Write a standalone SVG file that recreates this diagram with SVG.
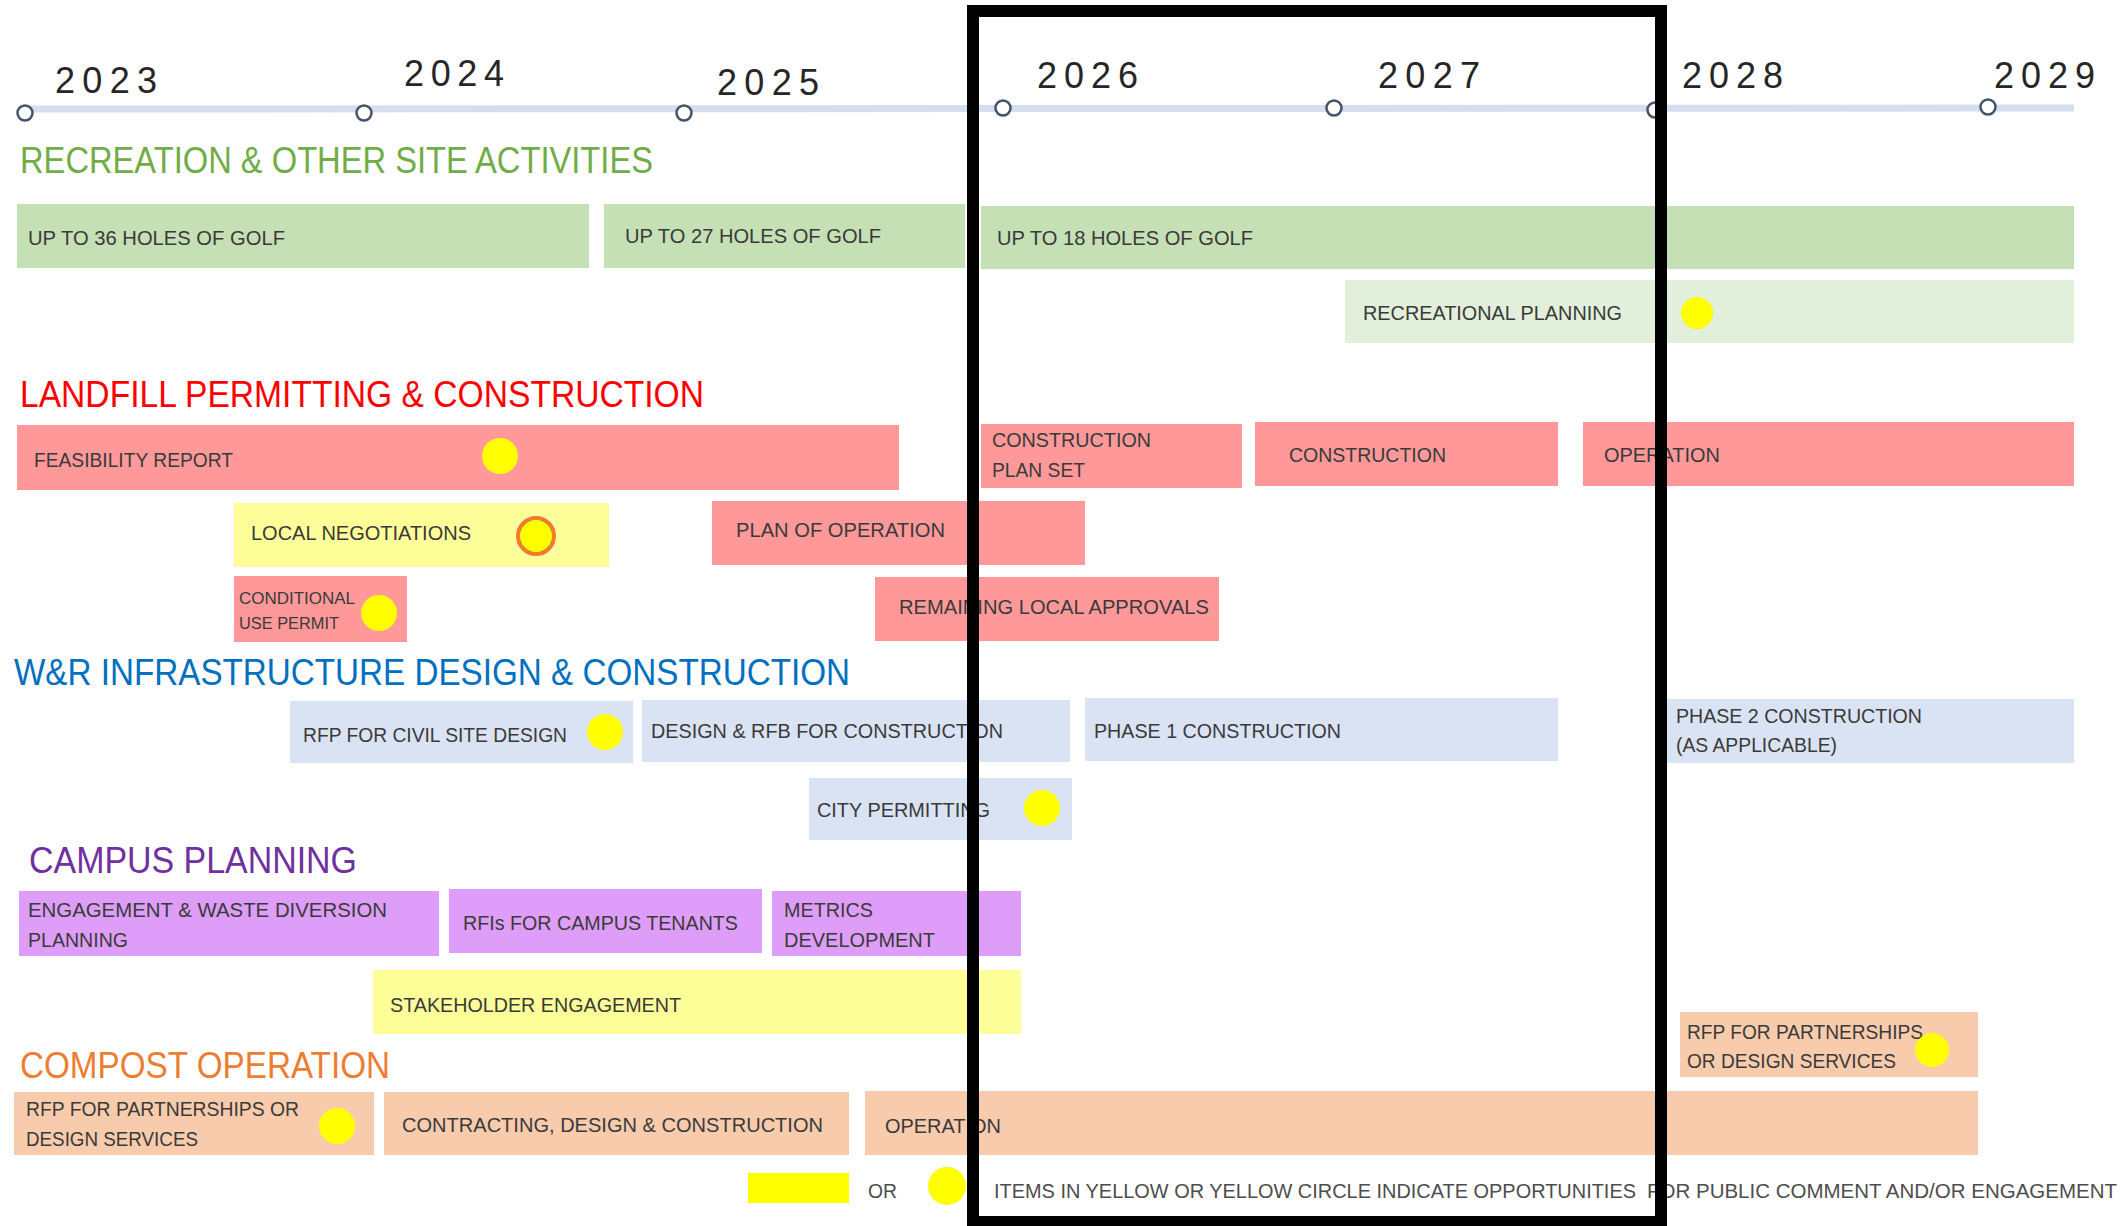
<svg xmlns="http://www.w3.org/2000/svg" width="2123" height="1226" viewBox="0 0 2123 1226">
<style>
.bg{fill:#ffffff}
.t{font-family:"Liberation Sans",Arial,sans-serif;font-size:20px;fill:#3a3a3a}
.ts{font-family:"Liberation Sans",Arial,sans-serif;font-size:16px;fill:#3a3a3a}
.yr{font-family:"Liberation Sans",Arial,sans-serif;font-size:36px;fill:#262626}
.h{font-family:"Liberation Sans",Arial,sans-serif;font-size:36px}
.g{fill:#C5E0B4}.lg{fill:#E2EFDA}.r{fill:#FF9999}.y{fill:#FFFF99}.b{fill:#DAE3F3}.p{fill:#DE9DF9}.o{fill:#F8CBAD}
.dot{fill:#FFFF00}
.tick{fill:#ffffff;stroke:#44546A;stroke-width:2.5}
.leg{font-family:"Liberation Sans",Arial,sans-serif;font-size:20px;fill:#4d4d4d}
</style>
<rect class="bg" x="0" y="0" width="2123" height="1226"/>
<g id="timeline">
<line x1="20" y1="109" x2="2074" y2="108" stroke="#D5DEEF" stroke-width="7"/>
<circle class="tick" cx="25" cy="113" r="7.5"/>
<circle class="tick" cx="364" cy="113" r="7.5"/>
<circle class="tick" cx="684" cy="113" r="7.5"/>
<circle class="tick" cx="1003" cy="108" r="7.5"/>
<circle class="tick" cx="1334" cy="108" r="7.5"/>
<circle class="tick" cx="1655" cy="110" r="7.5"/>
<circle class="tick" cx="1988" cy="107" r="7.5"/>
<text class="yr" x="55" y="93" textLength="102" lengthAdjust="spacing">2023</text>
<text class="yr" x="404" y="86" textLength="100" lengthAdjust="spacing">2024</text>
<text class="yr" x="717" y="95" textLength="102" lengthAdjust="spacing">2025</text>
<text class="yr" x="1037" y="88" textLength="101" lengthAdjust="spacing">2026</text>
<text class="yr" x="1378" y="88" textLength="102" lengthAdjust="spacing">2027</text>
<text class="yr" x="1682" y="88" textLength="101" lengthAdjust="spacing">2028</text>
<text class="yr" x="1994" y="88" textLength="101" lengthAdjust="spacing">2029</text>
</g>
<g id="headings">
<text class="h" x="20" y="173" fill="#70AD47" textLength="633" lengthAdjust="spacingAndGlyphs">RECREATION &amp; OTHER SITE ACTIVITIES</text>
<text class="h" x="20" y="407" fill="#FF0000" textLength="684" lengthAdjust="spacingAndGlyphs">LANDFILL PERMITTING &amp; CONSTRUCTION</text>
<text class="h" x="14" y="685" fill="#0070C0" textLength="836" lengthAdjust="spacingAndGlyphs">W&amp;R INFRASTRUCTURE DESIGN &amp; CONSTRUCTION</text>
<text class="h" x="29" y="873" fill="#7030A0" textLength="328" lengthAdjust="spacingAndGlyphs">CAMPUS PLANNING</text>
<text class="h" x="20" y="1078" fill="#ED7D31" textLength="370" lengthAdjust="spacingAndGlyphs">COMPOST OPERATION</text>
</g>
<g id="golf36"><rect class="g" x="17" y="204" width="572" height="64"/><text class="t" x="28" y="245" textLength="257" lengthAdjust="spacingAndGlyphs">UP TO 36 HOLES OF GOLF</text></g>
<g id="golf27"><rect class="g" x="604" y="204" width="361" height="64"/><text class="t" x="625" y="243" textLength="256" lengthAdjust="spacingAndGlyphs">UP TO 27 HOLES OF GOLF</text></g>
<g id="golf18"><rect class="g" x="981" y="206" width="1093" height="63"/><text class="t" x="997" y="245" textLength="256" lengthAdjust="spacingAndGlyphs">UP TO 18 HOLES OF GOLF</text></g>
<g id="recplan"><rect class="lg" x="1345" y="280" width="729" height="63"/><text class="t" x="1363" y="320" textLength="259" lengthAdjust="spacingAndGlyphs">RECREATIONAL PLANNING</text><circle class="dot" cx="1697" cy="313" r="16"/></g>
<g id="feasibility"><rect class="r" x="17" y="425" width="882" height="65"/><text class="t" x="34" y="467" textLength="199" lengthAdjust="spacingAndGlyphs">FEASIBILITY REPORT</text><circle class="dot" cx="500" cy="456" r="18"/></g>
<g id="localneg"><rect class="y" x="234" y="503" width="375" height="64"/><text class="t" x="251" y="540" textLength="220" lengthAdjust="spacingAndGlyphs">LOCAL NEGOTIATIONS</text><circle cx="536" cy="536" r="18" fill="#FFFF00" stroke="#ED7D31" stroke-width="4"/></g>
<g id="cup"><rect class="r" x="234" y="576" width="173" height="66"/><text class="ts" x="239" y="604" textLength="116" lengthAdjust="spacingAndGlyphs">CONDITIONAL</text><text class="ts" x="239" y="629" textLength="100" lengthAdjust="spacingAndGlyphs">USE PERMIT</text><circle class="dot" cx="379" cy="613" r="18"/></g>
<g id="cplanset"><rect class="r" x="981" y="424" width="261" height="64"/><text class="t" x="992" y="447" textLength="159" lengthAdjust="spacingAndGlyphs">CONSTRUCTION</text><text class="t" x="992" y="477" textLength="93" lengthAdjust="spacingAndGlyphs">PLAN SET</text></g>
<g id="construction"><rect class="r" x="1255" y="422" width="303" height="64"/><text class="t" x="1289" y="462" textLength="157" lengthAdjust="spacingAndGlyphs">CONSTRUCTION</text></g>
<g id="lfoperation"><rect class="r" x="1583" y="422" width="491" height="64"/><text class="t" x="1604" y="462" textLength="116" lengthAdjust="spacingAndGlyphs">OPERATION</text></g>
<g id="planop"><rect class="r" x="712" y="501" width="373" height="64"/><text class="t" x="736" y="537" textLength="209" lengthAdjust="spacingAndGlyphs">PLAN OF OPERATION</text></g>
<g id="remaining"><rect class="r" x="875" y="577" width="344" height="64"/><text class="t" x="899" y="614" textLength="310" lengthAdjust="spacingAndGlyphs">REMAINING LOCAL APPROVALS</text></g>
<g id="rfpcivil"><rect class="b" x="290" y="701" width="343" height="62"/><text class="t" x="303" y="742" textLength="264" lengthAdjust="spacingAndGlyphs">RFP FOR CIVIL SITE DESIGN</text><circle class="dot" cx="605" cy="732" r="18"/></g>
<g id="designrfb"><rect class="b" x="642" y="700" width="428" height="62"/><text class="t" x="651" y="738" textLength="352" lengthAdjust="spacingAndGlyphs">DESIGN &amp; RFB FOR CONSTRUCTION</text></g>
<g id="phase1"><rect class="b" x="1085" y="698" width="473" height="63"/><text class="t" x="1094" y="738" textLength="247" lengthAdjust="spacingAndGlyphs">PHASE 1 CONSTRUCTION</text></g>
<g id="phase2"><rect class="b" x="1660" y="699" width="414" height="64"/><text class="t" x="1676" y="723" textLength="246" lengthAdjust="spacingAndGlyphs">PHASE 2 CONSTRUCTION</text><text class="t" x="1676" y="752" textLength="161" lengthAdjust="spacingAndGlyphs">(AS APPLICABLE)</text></g>
<g id="citypermit"><rect class="b" x="809" y="778" width="263" height="62"/><text class="t" x="817" y="817" textLength="173" lengthAdjust="spacingAndGlyphs">CITY PERMITTING</text><circle class="dot" cx="1042" cy="808" r="18"/></g>
<g id="engagement"><rect class="p" x="19" y="891" width="420" height="65"/><text class="t" x="28" y="917" textLength="359" lengthAdjust="spacingAndGlyphs">ENGAGEMENT &amp; WASTE DIVERSION</text><text class="t" x="28" y="947" textLength="100" lengthAdjust="spacingAndGlyphs">PLANNING</text></g>
<g id="rfis"><rect class="p" x="449" y="889" width="313" height="64"/><text class="t" x="463" y="930" textLength="275" lengthAdjust="spacingAndGlyphs">RFIs FOR CAMPUS TENANTS</text></g>
<g id="metrics"><rect class="p" x="772" y="891" width="249" height="65"/><text class="t" x="784" y="917" textLength="89" lengthAdjust="spacingAndGlyphs">METRICS</text><text class="t" x="784" y="947" textLength="151" lengthAdjust="spacingAndGlyphs">DEVELOPMENT</text></g>
<g id="stakeholder"><rect class="y" x="373" y="970" width="648" height="64"/><text class="t" x="390" y="1012" textLength="291" lengthAdjust="spacingAndGlyphs">STAKEHOLDER ENGAGEMENT</text></g>
<g id="rfpcompost1"><rect class="o" x="14" y="1092" width="360" height="63"/><text class="t" x="26" y="1116" textLength="273" lengthAdjust="spacingAndGlyphs">RFP FOR PARTNERSHIPS OR</text><text class="t" x="26" y="1146" textLength="172" lengthAdjust="spacingAndGlyphs">DESIGN SERVICES</text><circle class="dot" cx="337" cy="1126" r="18"/></g>
<g id="contracting"><rect class="o" x="384" y="1092" width="465" height="63"/><text class="t" x="402" y="1132" textLength="421" lengthAdjust="spacingAndGlyphs">CONTRACTING, DESIGN &amp; CONSTRUCTION</text></g>
<g id="cpoperation"><rect class="o" x="865" y="1091" width="1113" height="64"/><text class="t" x="885" y="1133" textLength="116" lengthAdjust="spacingAndGlyphs">OPERATION</text></g>
<g id="rfpcompost2"><rect class="o" x="1680" y="1012" width="298" height="65"/><text class="t" x="1687" y="1039" textLength="236" lengthAdjust="spacingAndGlyphs">RFP FOR PARTNERSHIPS</text><text class="t" x="1687" y="1068" textLength="209" lengthAdjust="spacingAndGlyphs">OR DESIGN SERVICES</text><circle class="dot" cx="1932" cy="1050" r="17"/></g>
<g id="legend">
<rect x="748" y="1173" width="101" height="30" fill="#FFFF00"/>
<text class="leg" x="868" y="1198" textLength="29" lengthAdjust="spacingAndGlyphs">OR</text>
<circle class="dot" cx="947" cy="1186" r="19"/>
<text class="leg" y="1198"><tspan x="994" textLength="642" lengthAdjust="spacingAndGlyphs">ITEMS IN YELLOW OR YELLOW CIRCLE INDICATE OPPORTUNITIES</tspan> <tspan x="1647" textLength="470" lengthAdjust="spacingAndGlyphs">FOR PUBLIC COMMENT AND/OR ENGAGEMENT</tspan></text>
</g>
<g id="connectors"></g>
<g id="frame"><rect x="973" y="11" width="688" height="1211" fill="none" stroke="#000000" stroke-width="12"/></g>
</svg>
